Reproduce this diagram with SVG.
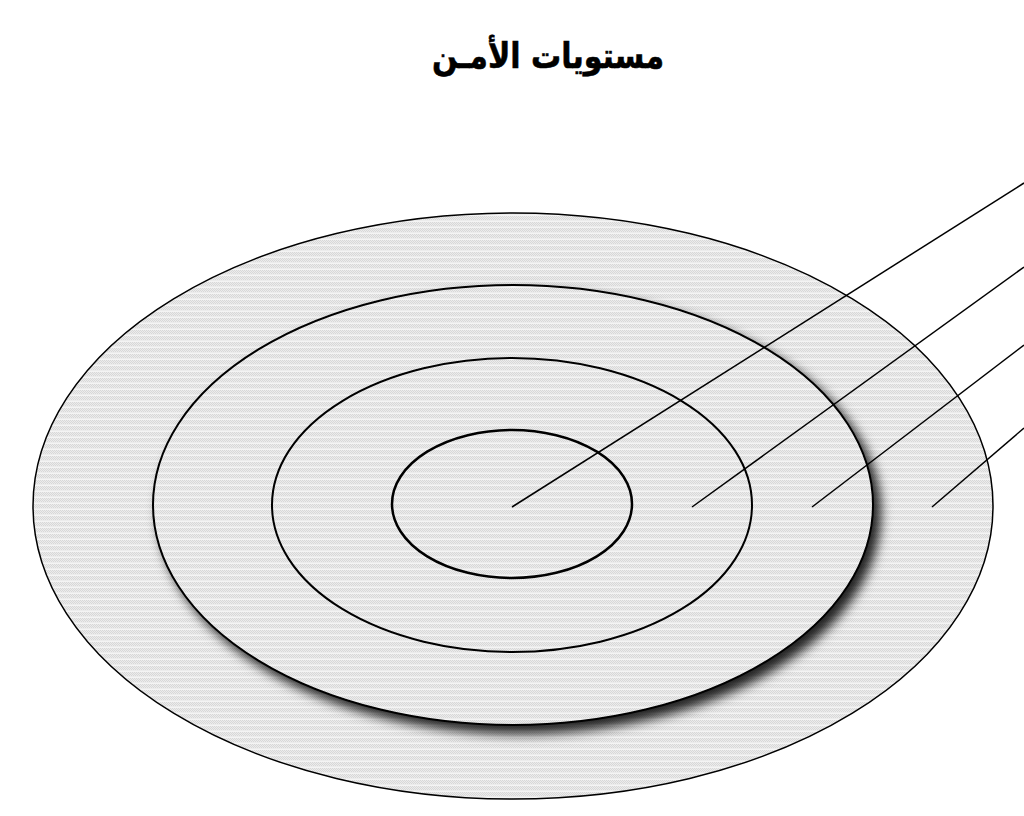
<svg xmlns="http://www.w3.org/2000/svg" width="1024" height="816" viewBox="0 0 1024 816">
  <style>
    .ring { fill: url(#dots); stroke: #000; }
    .conn { stroke: #000; stroke-width: 1.5; fill: none; }
    .title { font-family: "DejaVu Sans", "Noto Sans", sans-serif; font-weight: bold; font-size: 35px; fill: #000; stroke: #000; stroke-width: 0.6; }
  </style>
  <defs>
    <pattern id="dots" width="2" height="6" patternUnits="userSpaceOnUse">
      <rect width="2" height="6" fill="#ececec"/>
      <rect x="0" y="0" width="1" height="1" fill="#d8d8d8"/>
      <rect x="1" y="1" width="1" height="1" fill="#d8d8d8"/>
      <rect x="0" y="2" width="1" height="1" fill="#d8d8d8"/>
      <rect x="1" y="3" width="1" height="1" fill="#d8d8d8"/>
      <rect x="0" y="5" width="2" height="1" fill="#f4f4f4"/>
    </pattern>
    <filter id="shadow" x="-10%" y="-10%" width="125%" height="125%">
      <feDropShadow dx="7" dy="8" stdDeviation="6" flood-color="#000" flood-opacity="0.85"/>
    </filter>
  </defs>
  <rect width="1024" height="816" fill="#fff"/>
  <g id="title">
    <text class="title" x="548" y="68" text-anchor="middle" direction="rtl" textLength="232" lengthAdjust="spacingAndGlyphs">مستويات الأمـن</text>
  </g>
  <g id="ring-outer">
    <ellipse class="ring" cx="513" cy="506" rx="480" ry="293" stroke-width="1.5"/>
  </g>
  <g id="ring-2" filter="url(#shadow)">
    <ellipse class="ring" cx="513" cy="505" rx="360" ry="220" stroke-width="2"/>
  </g>
  <g id="ring-3">
    <ellipse class="ring" cx="512" cy="505" rx="240" ry="147" stroke-width="2"/>
  </g>
  <g id="ring-inner">
    <ellipse class="ring" cx="512" cy="504" rx="120" ry="74" stroke-width="2.5"/>
  </g>
  <g id="connectors">
    <line class="conn" x1="512" y1="507" x2="1024" y2="183"/>
    <line class="conn" x1="692" y1="507" x2="1024" y2="267"/>
    <line class="conn" x1="812" y1="507" x2="1024" y2="345"/>
    <line class="conn" x1="932" y1="507" x2="1024" y2="428"/>
  </g>
</svg>
